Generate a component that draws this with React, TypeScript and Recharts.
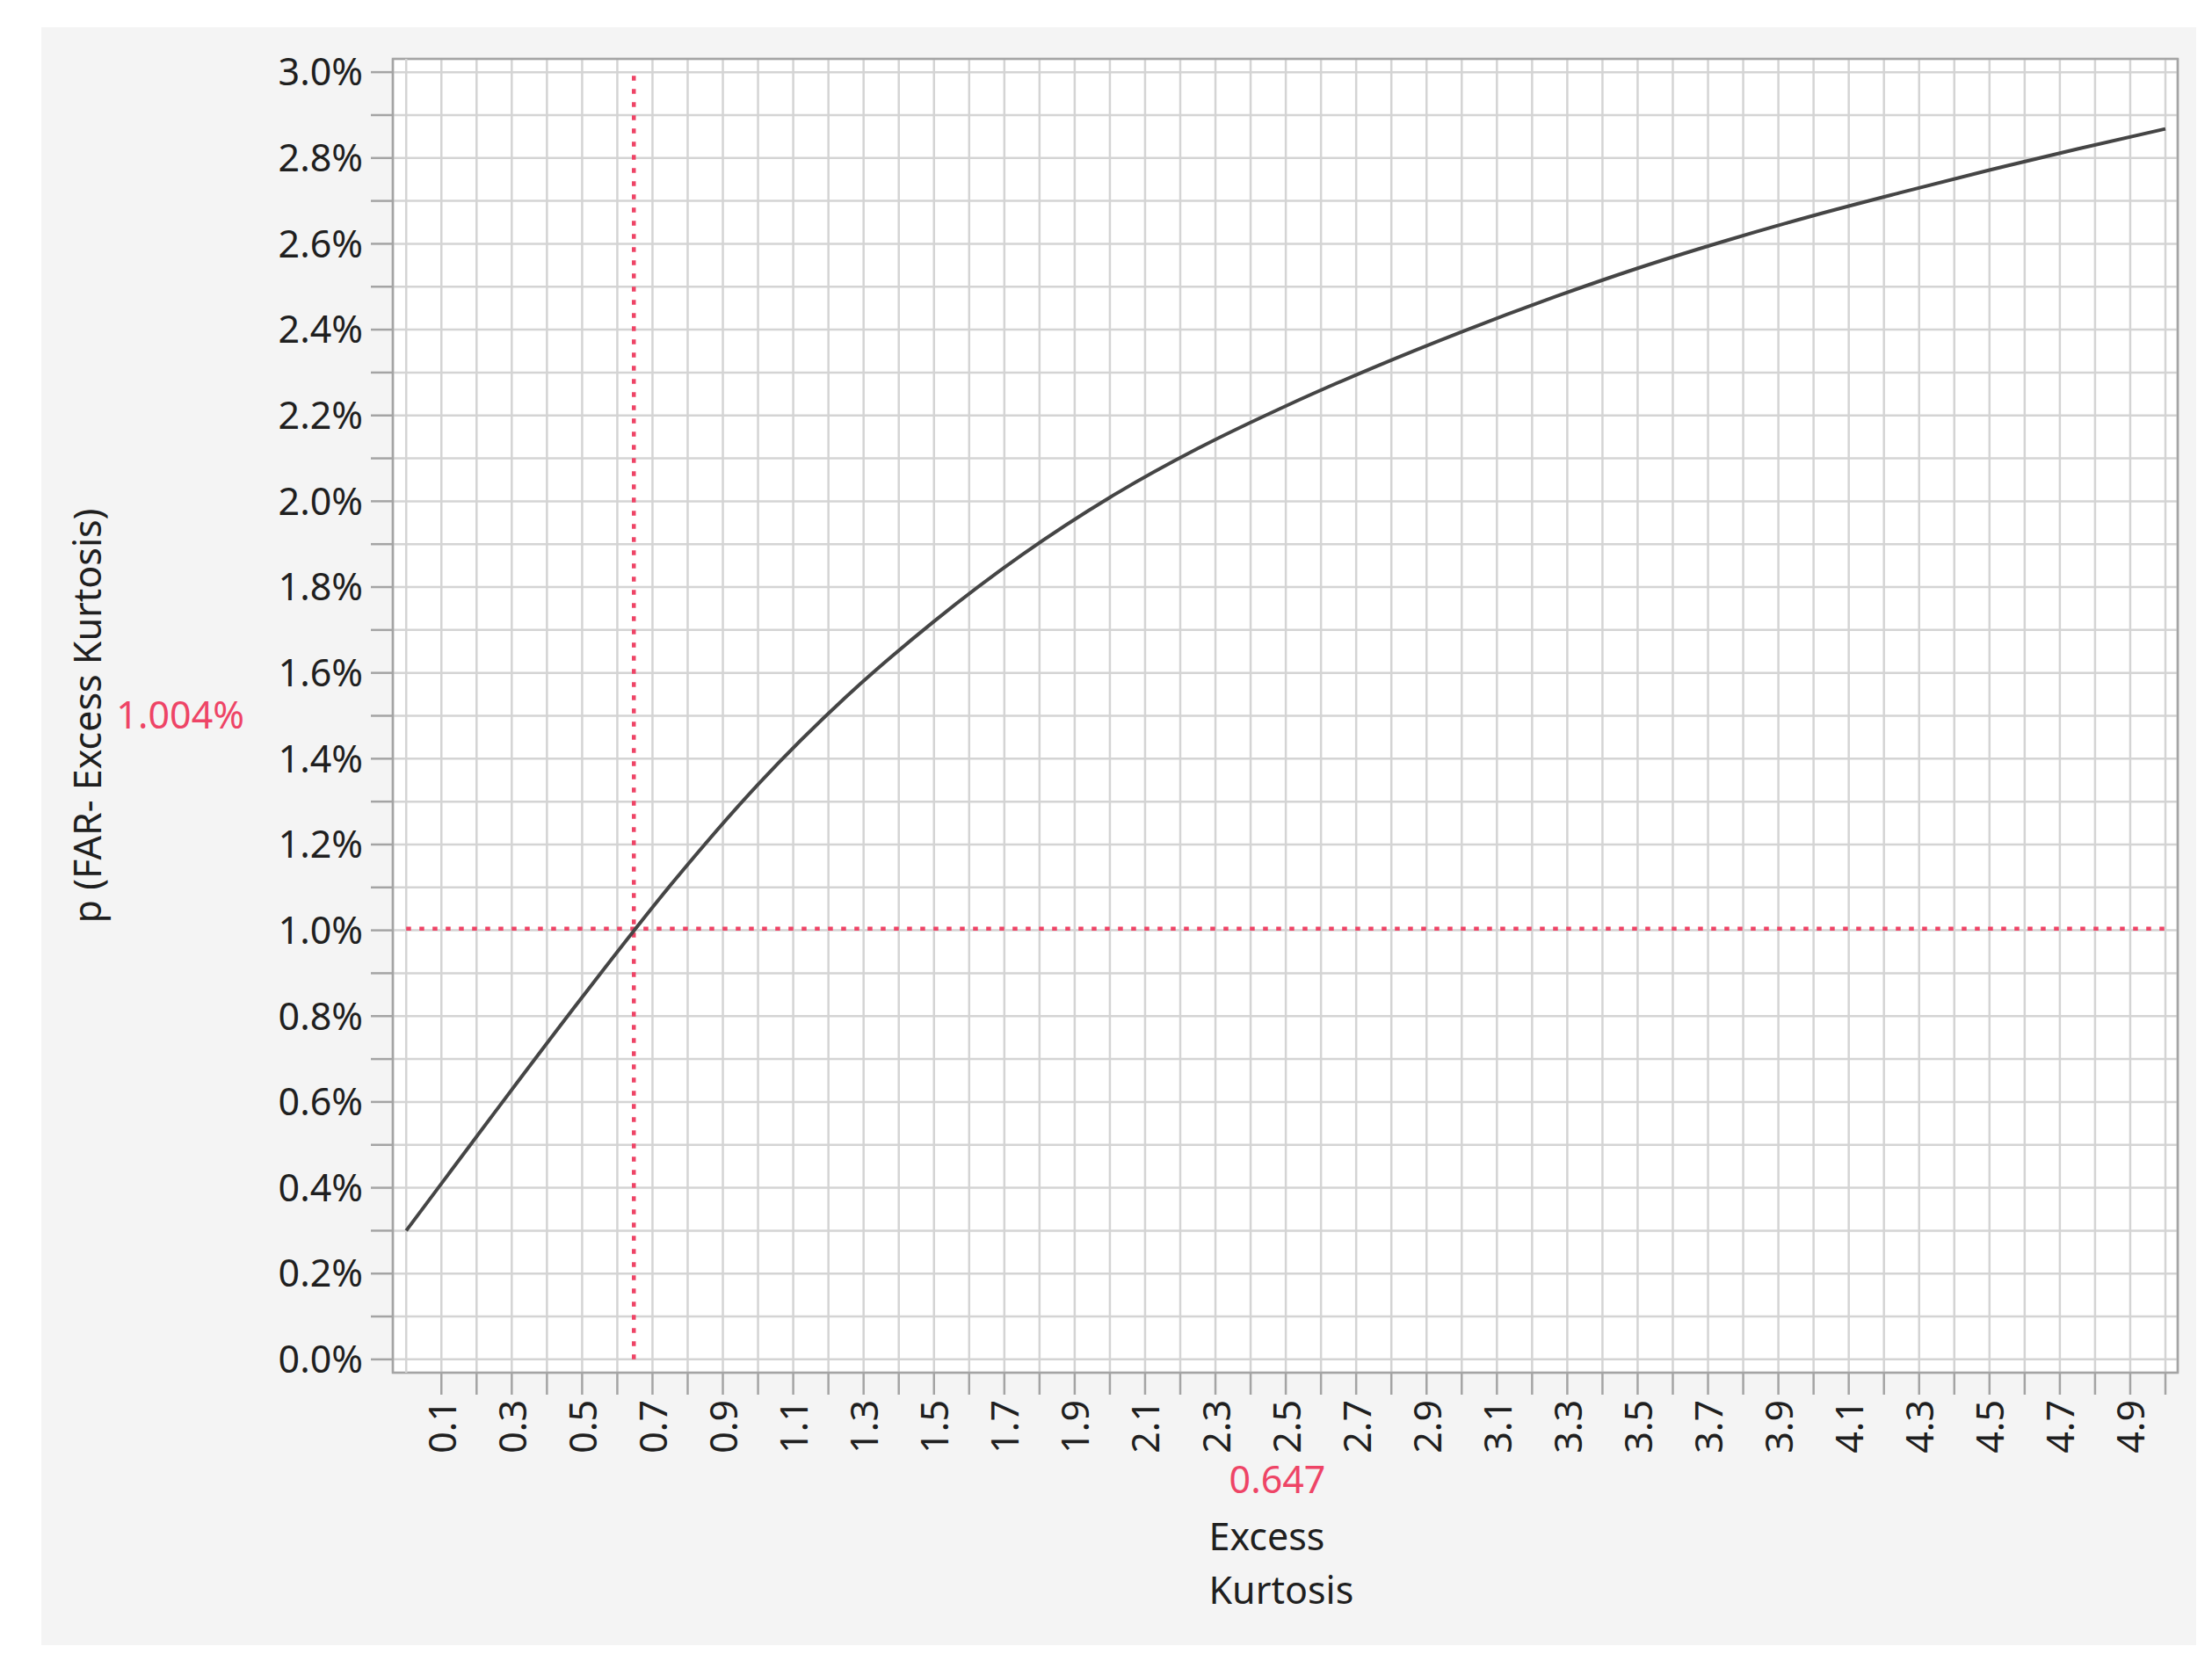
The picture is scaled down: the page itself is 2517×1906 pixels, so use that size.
import { LineChart, Line, XAxis, YAxis, CartesianGrid, ReferenceLine, ReferenceArea, Label } from 'recharts'

// Excess kurtosis (x) and p(FAR) in percent (y)
const kurtosis = [0, 0.25, 0.5, 0.75, 1, 1.25, 1.5, 1.75, 2, 2.25, 2.5, 2.75, 3, 3.25, 3.5, 3.75, 4, 4.25, 4.5, 4.75, 5]
const pFar = [0.3, 0.574, 0.844, 1.104, 1.34, 1.544, 1.72, 1.875, 2.009, 2.123, 2.222, 2.312, 2.395, 2.472, 2.543, 2.607, 2.666, 2.72, 2.772, 2.821, 2.868]

// current crosshair setting
const crossKurtosis = 0.647
const crossP = 1.004

const steps = (from: number, count: number) => Array.from({ length: count }, (_, i) => Math.round((from + i * 0.1) * 100) / 100)
const majorXTicks = steps(0.1, 50) // 0.1 .. 5.0
const minorXTicks = steps(0.05, 50) // 0.05 .. 4.95
const yTicks = steps(0, 31) // 0.0 .. 3.0 (%)

const data = kurtosis.map((k, i) => ({ k, p: pFar[i] }))

const FONT = '"Noto Sans", "Open Sans", sans-serif'
const TEXT = '#1f1f1f'
const RED = '#ee4466'
const GRID = '#d4d4d4'
const GRID_LIGHT = '#e9e9e9'
const FRAME = '#a4a4a4'
const X_DOMAIN = [-0.038, 5.035]
const Y_DOMAIN = [-0.031, 3.031]

const isOdd = (v: number) => Math.round(v * 10) % 2 === 1

function KurtosisTick({ x, y, payload }: any) {
  if (!isOdd(payload.value)) return <g />
  return (
    <text
      x={x}
      y={y}
      transform={`rotate(-90 ${x} ${y})`}
      textAnchor="end"
      dominantBaseline="central"
      fontSize={43}
      fontFamily={FONT}
      fill={TEXT}
    >
      {payload.value.toFixed(1)}
    </text>
  )
}

function YLabels({ viewBox }: any) {
  const vb = viewBox || { x: 0, y: 67, width: 447, height: 1495 }
  const cy = vb.y + vb.height / 2
  const tx = vb.x + 98
  return (
    <g fontFamily={FONT} fontSize={43}>
      <text x={tx} y={cy} transform={`rotate(-90 ${tx} ${cy})`} textAnchor="middle" dominantBaseline="central" fill={TEXT}>
        p (FAR- Excess Kurtosis)
      </text>
      <text x={vb.x + 278} y={cy - 2} textAnchor="end" dominantBaseline="central" fill={RED}>
        {crossP.toFixed(3)}%
      </text>
    </g>
  )
}

function XLabels({ viewBox }: any) {
  const vb = viewBox || { x: 447, y: 1562, width: 2031, height: 344 }
  const cx = vb.x + vb.width / 2
  return (
    <g fontFamily={FONT} fontSize={43}>
      <text x={cx - 9} y={vb.y + 120} textAnchor="middle" dominantBaseline="central" fill={RED}>
        {crossKurtosis.toFixed(3)}
      </text>
      <text x={cx - 87} y={vb.y + 185} dominantBaseline="central" fill={TEXT}>
        Excess
      </text>
      <text x={cx - 87} y={vb.y + 246} dominantBaseline="central" fill={TEXT}>
        Kurtosis
      </text>
    </g>
  )
}

export default function App() {
  return (
    <div style={{ position: 'absolute', left: 0, top: 0, width: 2517, height: 1906, background: '#ffffff' }}>
      <div style={{ position: 'absolute', left: 47, top: 31, width: 2452, height: 1841, background: '#f4f4f4' }} />
      <div style={{ position: 'absolute', left: 0, top: 0 }}>
        <LineChart width={2517} height={1906} data={data} margin={{ top: 67, right: 39, bottom: 0, left: 0 }}>
          <CartesianGrid xAxisId="minor" horizontal={false} stroke={GRID_LIGHT} strokeWidth={2.5} fill="#ffffff" />
          <CartesianGrid stroke={GRID} strokeWidth={2.5} />
          <XAxis
            xAxisId="minor"
            type="number"
            dataKey="k"
            domain={X_DOMAIN}
            allowDataOverflow
            ticks={minorXTicks}
            interval={0}
            tick={false}
            tickSize={14}
            tickLine={{ stroke: FRAME, strokeWidth: 2.5 }}
            axisLine={false}
            height={0}
          />
          <XAxis
            type="number"
            dataKey="k"
            domain={X_DOMAIN}
            allowDataOverflow
            ticks={majorXTicks}
            interval={0}
            tick={<KurtosisTick />}
            tickSize={25}
            tickMargin={6}
            tickLine={{ stroke: FRAME, strokeWidth: 2.5 }}
            axisLine={false}
            height={344}
          >
            <Label content={(props: any) => <XLabels viewBox={props.viewBox} />} />
          </XAxis>
          <YAxis
            type="number"
            domain={Y_DOMAIN}
            allowDataOverflow
            ticks={yTicks}
            interval={0}
            tickFormatter={(v: number) => (isOdd(v) ? '' : `${v.toFixed(1)}%`)}
            tick={{ fontSize: 43, fill: TEXT, fontFamily: FONT }}
            tickSize={25}
            tickMargin={9}
            tickLine={{ stroke: FRAME, strokeWidth: 2.5 }}
            axisLine={false}
            width={447}
          >
            <Label content={(props: any) => <YLabels viewBox={props.viewBox} />} />
          </YAxis>
          <ReferenceLine x={0} stroke={GRID} strokeWidth={2.5} />
          <ReferenceArea x1={X_DOMAIN[0]} x2={X_DOMAIN[1]} y1={Y_DOMAIN[0]} y2={Y_DOMAIN[1]} fill="none" stroke={FRAME} strokeWidth={2.5} />
          <ReferenceLine
            segment={[{ x: crossKurtosis, y: yTicks[0] }, { x: crossKurtosis, y: yTicks[yTicks.length - 1] }]}
            stroke={RED}
            strokeWidth={4.5}
            strokeDasharray="5.5 9.5"
          />
          <ReferenceLine
            segment={[{ x: kurtosis[0], y: crossP }, { x: kurtosis[kurtosis.length - 1], y: crossP }]}
            stroke={RED}
            strokeWidth={4.5}
            strokeDasharray="5.5 9.5"
          />
          <Line type="monotone" dataKey="p" stroke="#454545" strokeWidth={4} dot={false} isAnimationActive={false} />
        </LineChart>
      </div>
    </div>
  )
}
